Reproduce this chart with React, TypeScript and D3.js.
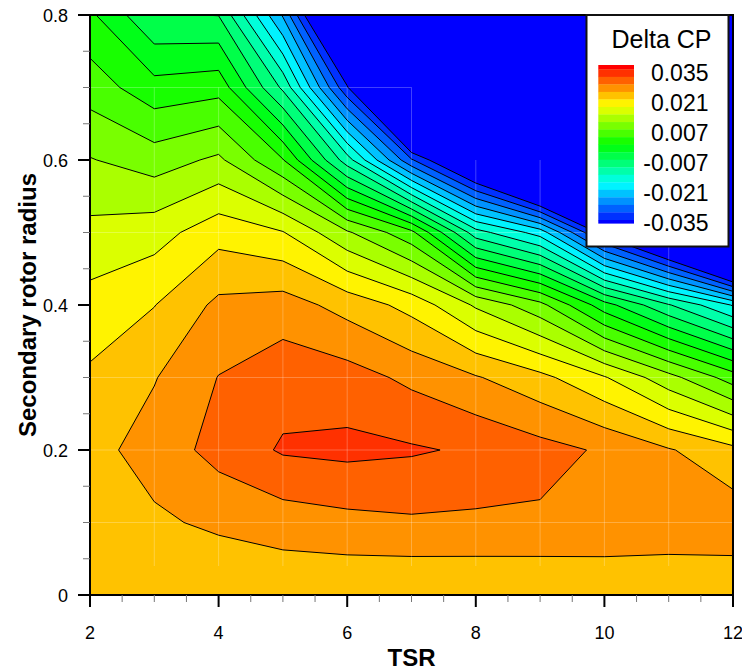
import React from 'react';
import * as d3 from 'd3';

// ---- data (grid of Delta CP values; rows = secondary rotor radius, columns = TSR) ----
const tsr = [2, 3, 4, 5, 6, 7, 8, 9, 10, 11, 12];
const radius = [0, 0.1, 0.2, 0.3, 0.4, 0.5, 0.6, 0.7, 0.8];

const cpR00 = [0.0222, 0.0218, 0.0212, 0.0217, 0.0214, 0.0211, 0.0213, 0.0212, 0.0217, 0.0217, 0.022];
const cpR01 = [0.0228, 0.0239, 0.0252, 0.0262, 0.027, 0.0275, 0.0273, 0.0274, 0.027, 0.0267, 0.0266];
const cpR02 = [0.0233, 0.026, 0.0292, 0.0319, 0.0324, 0.0319, 0.031, 0.0293, 0.0275, 0.0248, 0.022];
const cpR03 = [0.0216, 0.0243, 0.0281, 0.0301, 0.0295, 0.0272, 0.0248, 0.022, 0.0178, 0.0118, 0.0053];
const cpR04 = [0.0188, 0.0209, 0.0253, 0.0261, 0.0232, 0.0198, 0.0135, 0.0081, -0.002, -0.0102, -0.0178];
const cpR05 = [0.015, 0.016, 0.0197, 0.0177, 0.011, 0.0045, -0.0125, -0.019, -0.037, -0.05, -0.072];
const cpR06 = [0.0107, 0.0088, 0.0112, 0.0037, -0.0124, -0.031, -0.0455, -0.063, -0.075, -0.09, -0.1];
const cpR07 = [0.0054, 0.0013, 0.0022, -0.0112, -0.0345, -0.07, -0.085, -0.1, -0.11, -0.12, -0.13];
const cpR08 = [0.0007, -0.0067, -0.0071, -0.0249, -0.055, -0.09, -0.11, -0.13, -0.14, -0.15, -0.16];
const cpRows = [cpR00, cpR01, cpR02, cpR03, cpR04, cpR05, cpR06, cpR07, cpR08];

const contourLevels = [
  -0.035, -0.0315, -0.028, -0.0245, -0.021, -0.0175, -0.014, -0.0105, -0.007, -0.0035, 0,
  0.0035, 0.007, 0.0105, 0.014, 0.0175, 0.021, 0.0245, 0.028, 0.0315, 0.035,
];
const legendTicks = [0.035, 0.021, 0.007, -0.007, -0.021, -0.035];
const xTicks = [2, 4, 6, 8, 10, 12];
const yTicks = [0, 0.2, 0.4, 0.6, 0.8];

// ---- layout ----
const W = 742;
const H = 670;
const PL = 90, PR = 733, PT = 15, PB = 595;
const FONT = '"Liberation Sans", Arial, Helvetica, sans-serif';

function rainbow(t: number): string {
  let r = 0, g = 0, b = 0;
  if (t <= 0.25) { r = 0; g = 4 * t * 255; b = 255; }
  else if (t <= 0.5) { r = 0; g = 255; b = 255 * (1 - 4 * (t - 0.25)); }
  else if (t <= 0.75) { r = 255 * 4 * (t - 0.5); g = 255; b = 0; }
  else { r = 255; g = 255 * (1 - 4 * (t - 0.75)); b = 0; }
  return `rgb(${Math.round(r)},${Math.round(g)},${Math.round(b)})`;
}
const nRegions = contourLevels.length + 1; // 22
const regionColor = (k: number) => rainbow(k / (nRegions - 1));

export default function App() {
  const x = d3.scaleLinear().domain([2, 12]).range([PL, PR]);
  const y = d3.scaleLinear().domain([0, 0.8]).range([PB, PT]);

  const nx = tsr.length, ny = radius.length;
  const idxToTsr = d3.scaleLinear().domain(d3.range(nx)).range(tsr);
  const idxToRad = d3.scaleLinear().domain(d3.range(ny)).range(radius);
  const flat: number[] = [];
  for (let j = 0; j < ny; j++) for (let i = 0; i < nx; i++) flat.push(cpRows[j][i]);

  const contours = d3.contours().size([nx, ny]).thresholds(contourLevels)(flat);

  const px = (c: number) => x(idxToTsr(Math.max(0, Math.min(nx - 1, c - 0.5))));
  const py = (c: number) => y(idxToRad(Math.max(0, Math.min(ny - 1, c - 0.5))));
  const ringPath = (ring: number[][]) =>
    ring.map((p, k) => (k ? 'L' : 'M') + px(p[0]).toFixed(2) + ',' + py(p[1]).toFixed(2)).join('') + 'Z';
  const mpPath = (mp: any) => mp.coordinates.map((poly: number[][][]) => poly.map(ringPath).join('')).join('');

  const paths = contours.map((c: any) => mpPath(c));

  // faint mesh lines
  const meshV = [
    { t: 3, top: 0.7 }, { t: 4, top: 0.7 }, { t: 5, top: 0.7 }, { t: 6, top: 0.7 }, { t: 7, top: 0.7 },
    { t: 8, top: 0.6 }, { t: 9, top: 0.6 }, { t: 10, top: 0.5 }, { t: 11, top: 0.5 },
  ];
  const meshH = [
    { r: 0.1, to: 12 }, { r: 0.2, to: 12 }, { r: 0.3, to: 12 }, { r: 0.5, to: 11 }, { r: 0.7, to: 7 },
  ];

  const xMinor = d3.range(2, 12.001, 0.5).filter((v) => Math.abs(v % 2) > 1e-6);
  const yMinor = d3.range(0, 0.8001, 0.05).filter((v) => Math.abs(Math.round(v * 100) % 20) > 1e-6);

  // legend geometry
  const LX0 = 598.3, LX1 = 634;
  const LTop = 65, LBot = 223.3;
  const firstH = 4.3, lastH = 3.3;
  const midH = (LBot - LTop - firstH - lastH) / (nRegions - 2);
  const legendBands = d3.range(nRegions).map((i) => {
    const k = nRegions - 1 - i;
    let y0: number, h: number;
    if (i === 0) { y0 = LTop; h = firstH; }
    else if (i === nRegions - 1) { y0 = LBot - lastH; h = lastH; }
    else { y0 = LTop + firstH + (i - 1) * midH; h = midH; }
    return { k, y0, h };
  });
  const legendY = d3.scaleLinear().domain([0.035, -0.035]).range([73, 222.3]);

  return (
    <svg width={W} height={H} style={{ position: 'absolute', left: 0, top: 0, display: 'block', background: '#fff' }}
      fontFamily={FONT}>
      <defs>
        <clipPath id="plotClip">
          <rect x={PL} y={PT} width={PR - PL} height={PB - PT} />
        </clipPath>
      </defs>
      <g clipPath="url(#plotClip)">
        <rect x={PL} y={PT} width={PR - PL} height={PB - PT} fill={regionColor(0)} />
        {paths.map((d, k) => (
          <path key={'f' + k} d={d} fill={regionColor(k + 1)} fillRule="evenodd" stroke="none" />
        ))}
        {meshV.map((m) => (
          <line key={'mv' + m.t} x1={x(m.t)} x2={x(m.t)} y1={y(0.04)} y2={y(m.top)}
            stroke="#fff" strokeOpacity={0.25} strokeWidth={1} />
        ))}
        {meshH.map((m) => (
          <line key={'mh' + m.r} x1={x(2)} x2={x(m.to)} y1={y(m.r)} y2={y(m.r)}
            stroke="#fff" strokeOpacity={0.25} strokeWidth={1} />
        ))}
        {paths.map((d, k) => (
          <path key={'l' + k} d={d} fill="none" stroke="#000" strokeWidth={1} strokeLinejoin="round" />
        ))}
      </g>

      {/* frame */}
      <rect x={PL} y={PT} width={PR - PL} height={PB - PT} fill="none" stroke="#000" strokeWidth={2} />

      {/* x axis ticks */}
      {xMinor.map((v) => (
        <line key={'xm' + v} x1={x(v)} x2={x(v)} y1={PB} y2={PB + 7} stroke="#777" strokeWidth={1} />
      ))}
      {xTicks.map((v) => (
        <g key={'xt' + v}>
          <line x1={x(v)} x2={x(v)} y1={PB} y2={PB + 12} stroke="#000" strokeWidth={2} />
          <text x={x(v)} y={638.5} textAnchor="middle" fontSize={18} fill="#000">{v}</text>
        </g>
      ))}
      {/* y axis ticks */}
      {yMinor.map((v) => (
        <line key={'ym' + v} x1={PL - 7} x2={PL} y1={y(v)} y2={y(v)} stroke="#777" strokeWidth={1} />
      ))}
      {yTicks.map((v) => (
        <g key={'yt' + v}>
          <line x1={PL - 12} x2={PL} y1={y(v)} y2={y(v)} stroke="#000" strokeWidth={2} />
          <text x={68} y={y(v) + 6.5} textAnchor="end" fontSize={18} fill="#000">{v === 0 ? '0' : String(v)}</text>
        </g>
      ))}

      {/* axis titles */}
      <text x={411.5} y={666} textAnchor="middle" fontSize={24} fontWeight="bold" fill="#000">TSR</text>
      <text transform="translate(36,305) rotate(-90)" textAnchor="middle" fontSize={24} fontWeight="bold" fill="#000">
        Secondary rotor radius
      </text>

      {/* legend */}
      <rect x={586.5} y={15} width={142} height={231.5} fill="#fff" stroke="#111" strokeWidth={2} />
      <text x={611.5} y={48.3} fontSize={25} fill="#000">Delta CP</text>
      {legendBands.map((b) => (
        <rect key={'lb' + b.k} x={LX0} y={b.y0} width={LX1 - LX0} height={b.h + 0.3} fill={regionColor(b.k)} />
      ))}
      {legendTicks.map((v) => (
        <text key={'lt' + v} x={708.5} y={legendY(v)} dy="0.36em" textAnchor="end" fontSize={23} fill="#000">
          {v.toFixed(3)}
        </text>
      ))}
    </svg>
  );
}
